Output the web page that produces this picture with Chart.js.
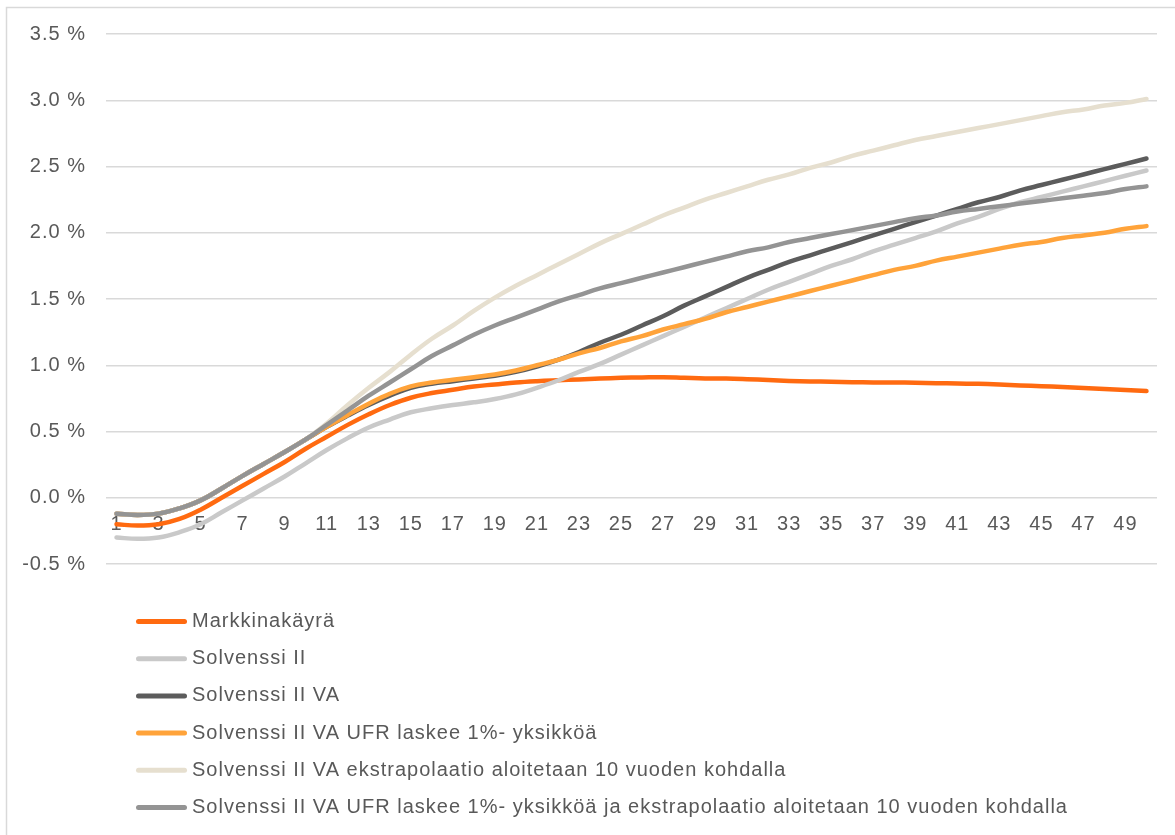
<!DOCTYPE html>
<html lang="fi">
<head>
<meta charset="utf-8">
<title>Korkokäyrät</title>
<script src="https://cdn.jsdelivr.net/npm/chart.js@4/dist/chart.umd.min.js"></script>
<style>
  html, body { margin: 0; padding: 0; background: #ffffff; }
  #wrap { position: relative; width: 1175px; height: 835px; }
  canvas { display: block; }
</style>
</head>
<body>
<div id="wrap"><canvas id="chart" width="1175" height="835"></canvas></div>
<script>
// Maturities (years)
const maturities = [1,2,3,4,5,6,7,8,9,10,11,12,13,14,15,16,17,18,19,20,21,22,23,24,25,
                    26,27,28,29,30,31,32,33,34,35,36,37,38,39,40,41,42,43,44,45,46,47,48,49,50];

// Series names
const seriesNames = [
  'Markkinakäyrä',
  'Solvenssi II',
  'Solvenssi II VA',
  'Solvenssi II VA UFR laskee 1%- yksikköä',
  'Solvenssi II VA ekstrapolaatio aloitetaan 10 vuoden kohdalla',
  'Solvenssi II VA UFR laskee 1%- yksikköä ja ekstrapolaatio aloitetaan 10 vuoden kohdalla'
];

// Interest rates, %
const markkinakayra = [-0.20,-0.21,-0.20,-0.16,-0.09,0.00,0.09,0.18,0.27,0.37,0.46,0.55,0.63,0.70,0.755,0.79,0.815,0.84,0.855,0.87,
                       0.88,0.887,0.893,0.90,0.905,0.908,0.91,0.905,0.90,0.90,0.895,0.888,0.882,0.878,0.875,0.872,0.87,0.87,0.868,0.865,
                       0.862,0.86,0.855,0.848,0.842,0.836,0.828,0.82,0.813,0.805];
const solvenssi2 = [-0.30,-0.31,-0.30,-0.26,-0.20,-0.11,-0.02,0.07,0.16,0.26,0.36,0.45,0.53,0.59,0.645,0.675,0.70,0.72,0.745,0.78,
                    0.83,0.885,0.95,1.01,1.08,1.15,1.22,1.29,1.36,1.43,1.50,1.57,1.63,1.69,1.75,1.80,1.86,1.91,1.96,2.01,
                    2.07,2.12,2.18,2.23,2.27,2.31,2.35,2.39,2.43,2.47];
const solvenssi2VA = [-0.12,-0.13,-0.12,-0.08,-0.02,0.07,0.165,0.255,0.345,0.44,0.535,0.62,0.70,0.77,0.83,0.86,0.88,0.90,0.92,0.95,
                      0.99,1.04,1.10,1.17,1.23,1.30,1.37,1.45,1.52,1.59,1.66,1.72,1.78,1.83,1.88,1.93,1.98,2.03,2.08,2.13,
                      2.18,2.23,2.27,2.32,2.36,2.40,2.44,2.48,2.52,2.56];
const ufrLaskee = [-0.12,-0.13,-0.12,-0.08,-0.02,0.07,0.165,0.255,0.345,0.44,0.535,0.625,0.71,0.785,0.84,0.87,0.89,0.91,0.93,0.96,
                   1.00,1.04,1.09,1.13,1.18,1.22,1.27,1.31,1.35,1.40,1.44,1.48,1.52,1.56,1.60,1.64,1.68,1.72,1.75,1.79,
                   1.82,1.85,1.88,1.91,1.93,1.96,1.98,2.00,2.03,2.05];
const ekstrapolaatio10 = [-0.12,-0.13,-0.12,-0.08,-0.02,0.07,0.165,0.255,0.345,0.44,0.56,0.70,0.83,0.95,1.08,1.20,1.30,1.41,1.51,1.60,
                          1.68,1.76,1.84,1.92,1.99,2.06,2.13,2.19,2.25,2.30,2.35,2.40,2.44,2.49,2.53,2.58,2.62,2.66,2.70,2.73,
                          2.76,2.79,2.82,2.85,2.88,2.91,2.93,2.96,2.98,3.01];
const ufrJaEkstrapolaatio = [-0.12,-0.13,-0.12,-0.08,-0.02,0.07,0.165,0.255,0.345,0.44,0.55,0.66,0.77,0.87,0.97,1.07,1.15,1.23,1.30,1.36,
                             1.42,1.48,1.53,1.58,1.62,1.66,1.70,1.74,1.78,1.82,1.86,1.89,1.93,1.96,1.99,2.02,2.05,2.08,2.11,2.13,
                             2.16,2.18,2.20,2.22,2.24,2.26,2.28,2.30,2.33,2.35];

// Y-axis ticks, %
const yTicks = [-0.5, 0.0, 0.5, 1.0, 1.5, 2.0, 2.5, 3.0, 3.5];

const seriesValues = [markkinakayra, solvenssi2, solvenssi2VA, ufrLaskee, ekstrapolaatio10, ufrJaEkstrapolaatio];
const seriesColors = ['#ff6a10', '#c9c9c9', '#5c5c5c', '#ffa33a', '#e6dfcf', '#949494'];

const FONT = "'Liberation Sans', Arial, sans-serif";
const TEXT_COLOR = '#595959';

// Light frame along the top and left edges, plus slightly wider text spacing
const framePlugin = {
  id: 'frame',
  beforeDraw(chart) {
    const ctx = chart.ctx;
    ctx.save();
    ctx.strokeStyle = '#d9d9d9';
    ctx.lineWidth = 1.5;
    ctx.beginPath();
    ctx.moveTo(6.5, chart.height);
    ctx.lineTo(6.5, 7.5);
    ctx.lineTo(chart.width, 7.5);
    ctx.stroke();
    ctx.restore();
    ctx.letterSpacing = '1px';
  }
};

// One legend entry per row below the plot
const rowLegendPlugin = {
  id: 'rowLegend',
  afterDraw(chart, args, opts) {
    const ctx = chart.ctx;
    ctx.save();
    ctx.font = '20px ' + FONT;
    ctx.fillStyle = TEXT_COLOR;
    ctx.textBaseline = 'middle';
    ctx.textAlign = 'left';
    ctx.letterSpacing = '1px';
    chart.data.datasets.forEach((ds, i) => {
      const y = opts.top + i * opts.rowHeight;
      ctx.strokeStyle = ds.borderColor;
      ctx.lineWidth = 5;
      ctx.lineCap = 'round';
      ctx.beginPath();
      ctx.moveTo(opts.lineStart, y);
      ctx.lineTo(opts.lineEnd, y);
      ctx.stroke();
      ctx.fillText(ds.label, opts.textX, y);
    });
    ctx.restore();
  }
};

const datasets = seriesValues.map((vals, i) => ({
  label: seriesNames[i],
  data: vals,
  borderColor: seriesColors[i],
  backgroundColor: seriesColors[i],
  borderWidth: 4.5,
  pointRadius: 0,
  pointHoverRadius: 0,
  tension: 0.4,
  borderCapStyle: 'round',
  borderJoinStyle: 'round',
  fill: false,
  order: seriesValues.length - 1 - i
}));

new Chart(document.getElementById('chart'), {
  type: 'line',
  data: { labels: maturities, datasets },
  options: {
    responsive: false,
    animation: false,
    events: [],
    layout: { padding: { top: 34, right: 18, bottom: 271, left: 0 } },
    font: { family: FONT, size: 20 },
    color: TEXT_COLOR,
    plugins: {
      legend: { display: false },
      tooltip: { enabled: false },
      rowLegend: { top: 621.5, rowHeight: 37.2, lineStart: 138.5, lineEnd: 184.5, textX: 192 }
    },
    scales: {
      x: {
        type: 'category',
        offset: true,
        position: { y: 0 },
        z: 1,
        grid: { display: false, drawTicks: false },
        border: { display: false },
        ticks: {
          autoSkip: false,
          maxRotation: 0,
          padding: 15,
          color: TEXT_COLOR,
          font: { family: FONT, size: 20 },
          callback(value, index) { return index % 2 === 0 ? String(maturities[index]) : ''; }
        },
        afterFit(scale) { scale.height = 0; }
      },
      y: {
        min: yTicks[0],
        max: yTicks[yTicks.length - 1],
        afterBuildTicks(scale) { scale.ticks = yTicks.map(v => ({ value: v })); },
        ticks: {
          padding: 20,
          color: TEXT_COLOR,
          font: { family: FONT, size: 20 },
          callback: v => v.toFixed(1) + ' %'
        },
        grid: { color: '#d9d9d9', lineWidth: 1.5, drawTicks: false },
        border: { display: false },
        afterFit(scale) { scale.width = 106; }
      }
    }
  },
  plugins: [framePlugin, rowLegendPlugin]
});
</script>
</body>
</html>
